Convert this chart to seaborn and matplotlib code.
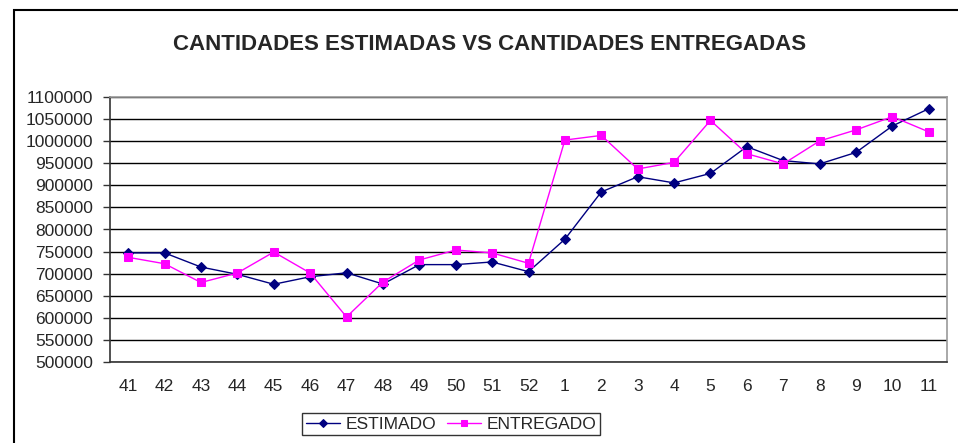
import matplotlib
matplotlib.use("Agg")
import matplotlib.pyplot as plt
import matplotlib.patches as mpatches
import pandas as pd
import seaborn as sns

# semanas (41..52 y 1..11)
semanas = ["41", "42", "43", "44", "45", "46", "47", "48", "49", "50", "51", "52",
           "1", "2", "3", "4", "5", "6", "7", "8", "9", "10", "11"]

estimado = [747000, 747000, 715000, 698500, 676000, 693000, 702000, 676500, 720500,
            720500, 726500, 704500, 778000, 885000, 919500, 905500, 927000, 987500,
            956000, 948500, 974500, 1034500, 1073500]

entregado = [737000, 722500, 680000, 701500, 749000, 701500, 602000, 681000, 731000,
             753500, 747000, 723500, 1002500, 1013000, 937000, 952000, 1047000, 971500,
             948500, 1000500, 1025500, 1055500, 1021000]

y_ticks = list(range(500000, 1100001, 50000))

df = pd.DataFrame({"pos": range(len(semanas)), "ESTIMADO": estimado, "ENTREGADO": entregado})

sns.set_style("white")
plt.rcParams["font.family"] = ["Liberation Sans", "DejaVu Sans"]

fig = plt.figure(figsize=(9.58, 4.43), dpi=100)
ax = fig.add_axes([110 / 958, 1 - 362 / 443, (947 - 110) / 958, (362 - 97) / 443])

sns.lineplot(data=df, x="pos", y="ESTIMADO", ax=ax, color="#000080", marker="D",
             markersize=5, markeredgecolor="#000080", linewidth=1, label="ESTIMADO", legend=False)
sns.lineplot(data=df, x="pos", y="ENTREGADO", ax=ax, color="#FF00FF", marker="s",
             markersize=6, markeredgecolor="#FF00FF", linewidth=1, label="ENTREGADO", legend=False)

ax.set_xlim(-0.5, len(semanas) - 0.5)
ax.set_ylim(500000, 1100000)
ax.set_yticks(y_ticks)
ax.set_yticklabels([str(v) for v in y_ticks], fontsize=12.5)
ax.set_xticks(range(len(semanas)))
ax.set_xticklabels(semanas, fontsize=12.5)
ax.set_xticks([i - 0.5 for i in range(len(semanas) + 1)], minor=True)
ax.tick_params(axis="x", which="major", length=0, pad=12)
ax.tick_params(axis="x", which="minor", length=5, width=1, color="#333333", direction="out")
ax.tick_params(axis="y", length=5, width=1, color="#333333", direction="out", left=True, pad=7)
ax.set_xlabel("")
ax.set_ylabel("")

ax.grid(axis="y", color="black", linewidth=1)
ax.grid(axis="x", visible=False)
ax.set_axisbelow(True)
for side in ["left", "bottom"]:
    ax.spines[side].set_color("#333333")
    ax.spines[side].set_linewidth(1.2)
for side in ["top", "right"]:
    ax.spines[side].set_color("#999999")
    ax.spines[side].set_linewidth(1.2)

fig.text(490 / 958, 1 - 44 / 443, "CANTIDADES ESTIMADAS VS CANTIDADES ENTREGADAS",
         ha="center", va="center", fontsize=16, fontweight="bold")

handles, labels = ax.get_legend_handles_labels()
fig.legend(handles, labels, loc="upper center", bbox_to_anchor=(451 / 958, 1 - 413 / 443),
           ncol=2, frameon=True, fancybox=False, edgecolor="black", fontsize=12.5,
           handlelength=2.0, handletextpad=0.3, columnspacing=0.6, borderpad=0.2,
           borderaxespad=0, markerscale=0.8)

# marco exterior del grafico
frame = mpatches.Rectangle((14 / 958, -0.1), 2, 1 - 10 / 443 + 0.1, transform=fig.transFigure,
                           fill=False, edgecolor="black", linewidth=1.5)
fig.patches.append(frame)

fig.savefig("out.png", dpi=100)
